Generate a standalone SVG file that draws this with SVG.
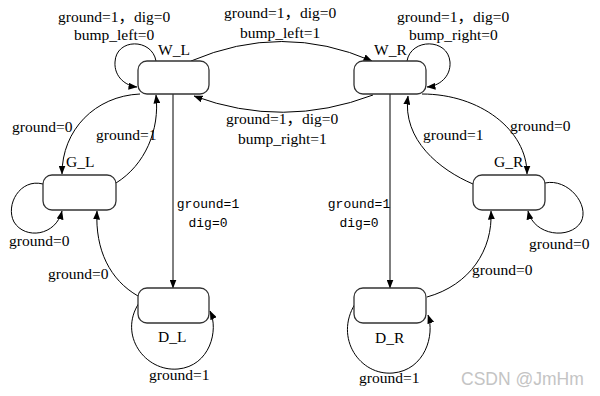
<svg xmlns="http://www.w3.org/2000/svg" width="600" height="396" viewBox="0 0 600 396">
<defs>
<marker id="ah" markerWidth="9" markerHeight="7" refX="8.5" refY="3.5" orient="auto" markerUnits="userSpaceOnUse">
<path d="M0,0 L9,3.5 L0,7 Z" fill="#000"/>
</marker>
</defs>
<style>
.box{fill:#fff;stroke:#333;stroke-width:1.3}
.e{fill:none;stroke:#000;stroke-width:1;marker-end:url(#ah)}
.t{font-family:"Liberation Serif","Noto Sans CJK SC",serif;font-size:15.5px;fill:#000}
.m{font-family:"Liberation Mono",monospace;font-size:13px;fill:#000}
.c{text-anchor:middle}
</style>
<rect width="600" height="396" fill="#fff"/>
<g id="connectors">
<path class="e" d="M156,61 C152,38 116,38 115,62 C114,77 126,86 137,87"/>
<path class="e" d="M407,61 C411,38 448,38 450,62 C451,77 439,86 427,87"/>
<path class="e" d="M191,61 Q282,22 372,61"/>
<path class="e" d="M373,95 Q283,129 194,96"/>
<path class="e" d="M140,94 C95,96 62,130 62,174"/>
<path class="e" d="M116,183 C145,165 160,130 156,95"/>
<path class="e" d="M173,94 L173,288"/>
<path class="e" d="M43,184 C20,178 5,205 14,222 C25,240 56,236 62,211"/>
<path class="e" d="M138,296 C110,280 95,250 97,211"/>
<path class="e" d="M139,303 C118,335 145,372 178,369 C210,366 219,330 210,311"/>
<path class="e" d="M422,94 C480,94 527,130 527,174"/>
<path class="e" d="M473,184 C440,170 402,140 408,96"/>
<path class="e" d="M390,94 L390,288"/>
<path class="e" d="M545,183 C568,178 590,205 581,222 C570,240 534,236 528,211"/>
<path class="e" d="M427,297 C470,285 493,250 491,211"/>
<path class="e" d="M355,304 C334,338 360,376 393,373 C425,370 435,335 428,315"/>
</g>
<g id="W_L"><rect class="box" x="138" y="61" width="71" height="33" rx="9"/><text class="t" x="158" y="55">W_L</text></g>
<g id="W_R"><rect class="box" x="354" y="61" width="72" height="33" rx="9"/><text class="t" x="374" y="55">W_R</text></g>
<g id="G_L"><rect class="box" x="43" y="175" width="73" height="35" rx="9"/><text class="t" x="66" y="167">G_L</text></g>
<g id="G_R"><rect class="box" x="473" y="175" width="72" height="35" rx="9"/><text class="t" x="494" y="167">G_R</text></g>
<g id="D_L"><rect class="box" x="138" y="288" width="71" height="35" rx="9"/><text class="t" x="158" y="342">D_L</text></g>
<g id="D_R"><rect class="box" x="354" y="288" width="72" height="35" rx="9"/><text class="t" x="375" y="343">D_R</text></g>
<g id="labels">
<text class="t" x="58" y="22">ground=1，dig=0</text>
<text class="t" x="74" y="40">bump_left=0</text>
<text class="t" x="224" y="18">ground=1，dig=0</text>
<text class="t" x="240" y="38">bump_left=1</text>
<text class="t" x="397" y="22">ground=1，dig=0</text>
<text class="t" x="409" y="40">bump_right=0</text>
<text class="t" x="226" y="124">ground=1，dig=0</text>
<text class="t" x="238" y="144">bump_right=1</text>
<text class="t" x="12" y="132">ground=0</text>
<text class="t" x="96" y="140">ground=1</text>
<text class="t" x="423" y="140">ground=1</text>
<text class="t" x="510" y="131">ground=0</text>
<text class="m c" x="208" y="208">ground=1</text>
<text class="m c" x="208" y="227">dig=0</text>
<text class="m c" x="359" y="208">ground=1</text>
<text class="m c" x="359" y="227">dig=0</text>
<text class="t" x="9" y="246">ground=0</text>
<text class="t" x="529" y="249">ground=0</text>
<text class="t" x="48" y="279">ground=0</text>
<text class="t" x="472" y="275">ground=0</text>
<text class="t" x="149" y="380">ground=1</text>
<text class="t" x="359" y="383">ground=1</text>
<text x="461" y="385" font-family="Liberation Sans,sans-serif" font-size="17.5px" fill="#c4c4c4">CSDN @JmHm</text>
</g>
</svg>
